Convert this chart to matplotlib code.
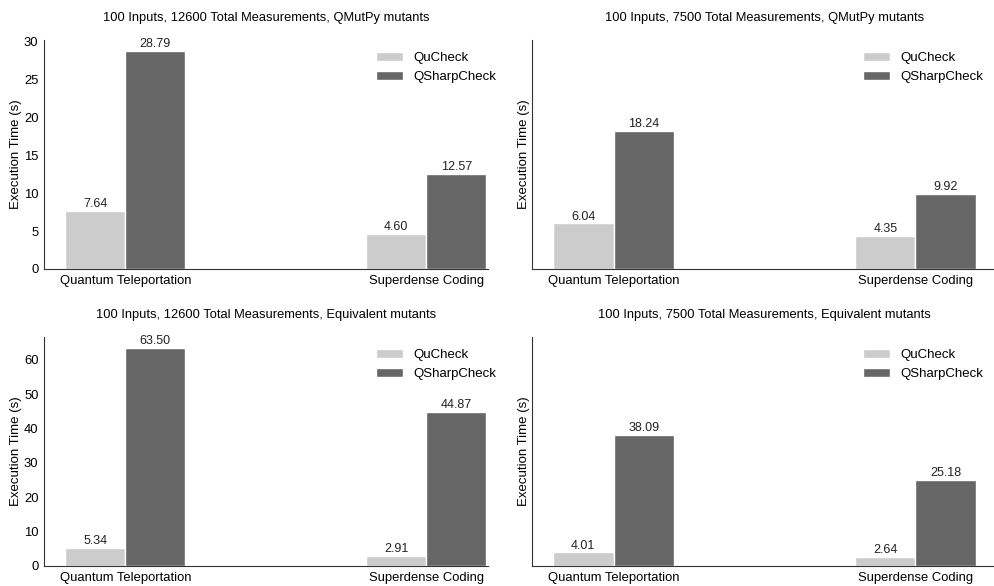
import numpy as np
import matplotlib.pyplot as plt

plt.rcParams['font.family'] = ['Liberation Sans', 'DejaVu Sans']

circuits = ["Quantum Teleportation", "Superdense Coding"]
tools = ["QuCheck", "QSharpCheck"]
colors = ["#cccccc", "#666666"]

titles = [
    "100 Inputs, 12600 Total Measurements, QMutPy mutants",
    "100 Inputs, 7500 Total Measurements, QMutPy mutants",
    "100 Inputs, 12600 Total Measurements, Equivalent mutants",
    "100 Inputs, 7500 Total Measurements, Equivalent mutants",
]
qucheck = [[7.64, 4.60], [6.04, 4.35], [5.34, 2.91], [4.01, 2.64]]
qsharpcheck = [[28.79, 12.57], [18.24, 9.92], [63.50, 44.87], [38.09, 25.18]]

W, H = 995, 586
fig = plt.figure(figsize=(W / 100, H / 100), dpi=100)


def box(x0, x1, y_top, y_bot):
    return [x0 / W, (H - y_bot) / H, (x1 - x0) / W, (y_bot - y_top) / H]


ax_tl = fig.add_axes(box(44, 488, 40, 269))
ax_tr = fig.add_axes(box(532, 997, 40, 269), sharey=ax_tl)
ax_bl = fig.add_axes(box(44, 488, 337, 566))
ax_br = fig.add_axes(box(532, 997, 337, 566), sharey=ax_bl)
axes = [ax_tl, ax_tr, ax_bl, ax_br]

x = np.arange(len(circuits))
w = 0.2

for i, ax in enumerate(axes):
    for j, vals in enumerate([qucheck[i], qsharpcheck[i]]):
        bars = ax.bar(x + (j - 0.5) * w, vals, w, color=colors[j],
                      edgecolor='white', linewidth=1, label=tools[j])
        for b, v in zip(bars, vals):
            ax.annotate(f"{v:.2f}", (b.get_x() + b.get_width() / 2, v),
                        xytext=(0, 0.5), textcoords='offset points',
                        ha='center', va='bottom', fontsize=9, color='#222222')
    ax.set_title(titles[i], fontsize=9.25, pad=14)
    ax.set_xticks(x)
    ax.set_xticklabels(circuits)
    ax.set_ylabel("Execution Time (s)", fontsize=9.5, labelpad=1.5)
    ax.tick_params(length=0, labelsize=9.4, pad=4)
    for s in ['top', 'right']:
        ax.spines[s].set_visible(False)
    for s in ['left', 'bottom']:
        ax.spines[s].set_color('#333333')

for ax in [ax_tl, ax_bl]:
    ax.set_xlim(-0.27, 1.205)
    ax.legend(frameon=False, loc='upper right', fontsize=9.5,
              bbox_to_anchor=(1.045, 1.0))
for ax in [ax_tr, ax_br]:
    ax.set_xlim(-0.27, 1.27)
    ax.tick_params(labelleft=False)
    ax.legend(frameon=False, loc='upper right', fontsize=9.5,
              bbox_to_anchor=(0.996, 1.0))

ax_bl.set_yticks([0, 10, 20, 30, 40, 50, 60])

fig.savefig("out.png")
